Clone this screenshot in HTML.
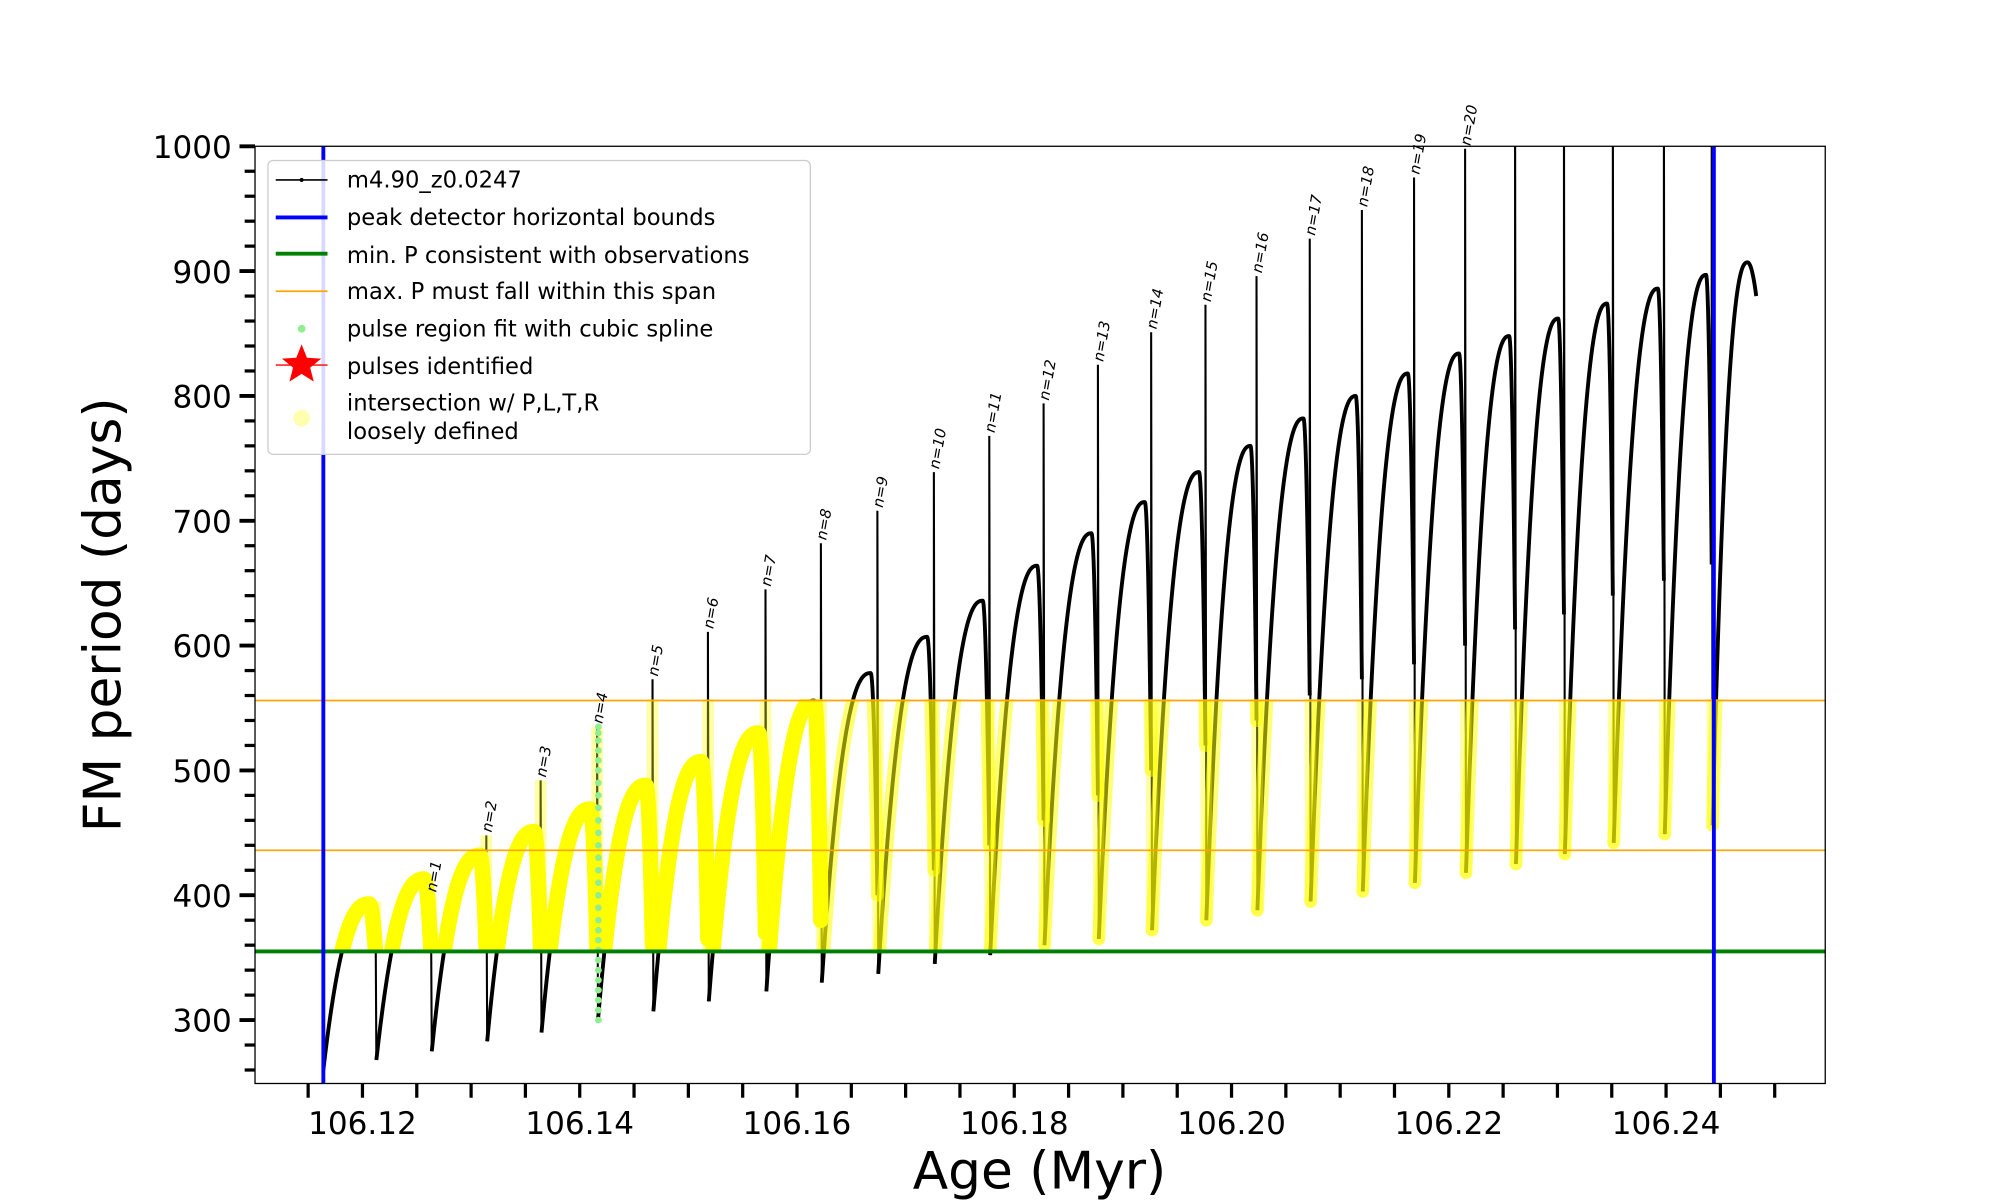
<!DOCTYPE html>
<html><head><meta charset="utf-8"><style>
html,body{margin:0;padding:0;background:#fff;}
svg{display:block;font-family:"DejaVu Sans","Liberation Sans",sans-serif;}
</style></head><body>
<svg id="chart" width="2000" height="1200" viewBox="0 0 1545 927" preserveAspectRatio="none" xmlns="http://www.w3.org/2000/svg">
<defs>
<clipPath id="axclip"><rect x="197" y="113" width="1213" height="724"/></clipPath>
<clipPath id="bandclip"><rect id="bandrect" x="197" y="0" width="1213" height="0"/></clipPath>
</defs>
<rect x="197" y="113" width="1213" height="724" fill="#fff"/>
<g id="series" clip-path="url(#axclip)"></g>
<rect x="197" y="113" width="1213" height="724" fill="none" stroke="#000" stroke-width="1"/>
<g id="ticks"></g>
<text x="803" y="918" font-size="40" text-anchor="middle">Age (Myr)</text>
<text transform="translate(93,475) rotate(-90)" font-size="40" text-anchor="middle">FM period (days)</text>
<g>
<rect x="207" y="124" width="419" height="227" rx="4" fill="#fff" fill-opacity="0.85" stroke="#ccc" stroke-width="1"/>
<g font-size="17.5" fill="#000">
<line x1="213" y1="139" x2="253" y2="139" stroke="#000" stroke-width="1.2"/><circle cx="233" cy="139" r="1.6"/>
<text x="268" y="145">m4.90_z0.0247</text>
<line x1="213" y1="168" x2="253" y2="168" stroke="#0000ff" stroke-width="3"/>
<text x="268" y="174">peak detector horizontal bounds</text>
<line x1="213" y1="196" x2="253" y2="196" stroke="#008000" stroke-width="3"/>
<text x="268" y="203">min. P consistent with observations</text>
<line x1="213" y1="225" x2="253" y2="225" stroke="#ffa500" stroke-width="1.3"/>
<text x="268" y="231">max. P must fall within this span</text>
<circle cx="233" cy="254" r="3" fill="#90ee90"/>
<text x="268" y="260">pulse region fit with cubic spline</text>
<line x1="213" y1="282" x2="253" y2="282" stroke="#ff0000" stroke-width="1"/>
<polygon points="233,266 237.1,276.4 248.2,277 239.6,284 242.4,294.8 233,288.8 223.6,294.8 226.4,284 217.8,277 228.9,276.4" fill="#ff0000"/>
<text x="268" y="289">pulses identified</text>
<circle cx="233" cy="323" r="6.5" fill="#ffffb0"/>
<text x="268" y="317">intersection w/ P,L,T,R</text>
<text x="268" y="339">loosely defined</text>
</g></g>
</svg>
<script>
// ---- data ----
const pulseAge=[106.1212,106.1263,106.1314,106.1364,106.1416,106.1467,106.1518,106.1571,106.1622,106.1674,106.1726,106.1777,106.1827,106.1877,106.1926,106.1976,106.2023,106.2072,106.2120,106.2168,106.2215,106.2261,106.2306,106.2351,106.2398,106.2442];
const spikePeak=[395,400,448,492,535,573,611,645,682,708,739,768,794,825,851,873,896,926,949,975,998,1050,1050,1050,1050,1050];
const cycleMin=[260,268,275,283,290,300,307,315,323,330,337,345,352,360,365,372,380,388,395,403,410,418,425,433,442,449,456];
const cycleMax=[393,413,432,451,469,488,507,530,556,578,607,636,664,690,715,739,760,782,800,818,834,848,862,874,886,897,907];
const cycleDip=[355,355,355,355,355,360,365,370,380,400,420,440,460,480,500,520,540,560,573,585,600,613,625,640,652,665,880];
const startAge=106.1164, endAge=106.2483;
const boundAges=[106.1164,106.2444];
const minP=[355];
const maxPSpan=[436,556];
const greenVals=[300,308,316,324,332,340,348,356,364,372,380,390,400,410,420,430,440,450,460,470,480,490,500,508,516,524,530,535];
const xTickVals=[106.12,106.14,106.16,106.18,106.20,106.22,106.24];
const yTickVals=[300,400,500,600,700,800,900,1000];

// ---- axes ----
const X=a=>280+(a-106.12)*8392;
const Y=v=>113+(1000-v)*0.96429;
const NS="http://www.w3.org/2000/svg";
function mk(tag,attrs,parent){const e=document.createElementNS(NS,tag);for(const k in attrs)e.setAttribute(k,attrs[k]);parent.appendChild(e);return e;}
const series=document.getElementById('series');
const ticks=document.getElementById('ticks');

const cycles=[];
const spikes=[];
for(let k=0;k<cycleMin.length;k++){
  const a0=k===0?startAge:pulseAge[k-1]+0.00008;
  const a1=k<pulseAge.length?pulseAge[k]:endAge;
  const m=cycleMin[k],M=cycleMax[k],d=cycleDip[k];
  const pf=k<pulseAge.length?0.88:0.8;
  const pts=[];
  const N=60;
  for(let i=0;i<=N;i++){const u=i/N;pts.push([a0+u*pf*(a1-a0),m+(M-m)*(1-Math.pow(1-u,2.4))]);}
  const N2=15;
  for(let i=1;i<=N2;i++){const w=i/N2;pts.push([a0+(pf+w*(1-pf))*(a1-a0),M-(M-d)*w*w]);}
  cycles.push(pts);
  if(k<pulseAge.length){
    spikes.push([[a1,d],[a1,spikePeak[k]],[a1+0.00008,cycleMin[k+1]]]);
  }
}
const toD=pts=>pts.map((p,i)=>(i?'L':'M')+X(p[0]).toFixed(2)+','+Y(p[1]).toFixed(2)).join('');

cycles.forEach((pts,k)=>{
  const p=mk('path',{d:toD(pts),fill:'none',stroke:'#000','stroke-width':3,'stroke-linejoin':'round'},series);
  
  
});
spikes.forEach((pts,k)=>{
  const p=mk('path',{d:toD(pts),fill:'none',stroke:'#000','stroke-width':1.6},series);
  
  
});

const br=document.getElementById('bandrect');
br.setAttribute('y',Y(maxPSpan[1]+1));
br.setAttribute('height',Y(minP[0]-1)-Y(maxPSpan[1]+1));

const yg=mk('g',{'clip-path':'url(#bandclip)'},series);
cycles.forEach((pts,k)=>{
  const p=mk('path',{d:toD(pts),fill:'none',stroke:'#ffff00','stroke-width':k<9?12:10,'stroke-linejoin':'round','stroke-linecap':'round',opacity:k<9?1:0.55},yg);
  
  
});
spikes.forEach((pts,k)=>{
  const p=mk('path',{d:toD(pts),fill:'none',stroke:'#ffff00','stroke-width':9,'stroke-linecap':'round',opacity:0.35},yg);
  
  
});

greenVals.forEach((v,i)=>{
  const c=mk('circle',{cx:X(pulseAge[4])+1,cy:Y(v),r:2.6,fill:'#90ee90'},series);
  
  
});

maxPSpan.forEach(v=>{
  const l=mk('line',{x1:197,x2:1410,y1:Y(v),y2:Y(v),stroke:'#ffa500','stroke-width':1.3},series);
  
  
});
minP.forEach(v=>{
  const l=mk('line',{x1:197,x2:1410,y1:Y(v),y2:Y(v),stroke:'#008000','stroke-width':3},series);
  
  
});
boundAges.forEach(a=>{
  const l=mk('line',{x1:X(a),x2:X(a),y1:113,y2:837,stroke:'#0000ff','stroke-width':3},series);
  
  
});

for(let n=1;n<=20;n++){
  const px=X(pulseAge[n])+4, py=Y(Math.min(spikePeak[n],1000))-2;
  const t=mk('text',{x:0,y:0,transform:`translate(${px},${py}) rotate(-80)`,'font-size':11.5,'font-style':'italic'},document.getElementById('chart'));
  t.textContent='n='+n;
  
  
}

for(let a=106.115;a<=106.2501;a+=0.005){
  const l=mk('line',{x1:X(a),x2:X(a),y1:837,y2:848,stroke:'#000','stroke-width':2.5},ticks);
  
  
}
xTickVals.forEach(a=>{
  const t=mk('text',{x:X(a),y:876,'font-size':24,'text-anchor':'middle'},ticks);
  t.textContent=a.toFixed(2);
  
  
});
for(let v=260;v<=1000;v+=20){
  const major=v%100===0;
  const l=mk('line',{x1:major?185:189,x2:197,y1:Y(v),y2:Y(v),stroke:'#000','stroke-width':major?3:2.5},ticks);
  
  
}
yTickVals.forEach(v=>{
  const t=mk('text',{x:179,y:Y(v)+9,'font-size':24,'text-anchor':'end'},ticks);
  t.textContent=v;
  
  
});
</script>
</body></html>
